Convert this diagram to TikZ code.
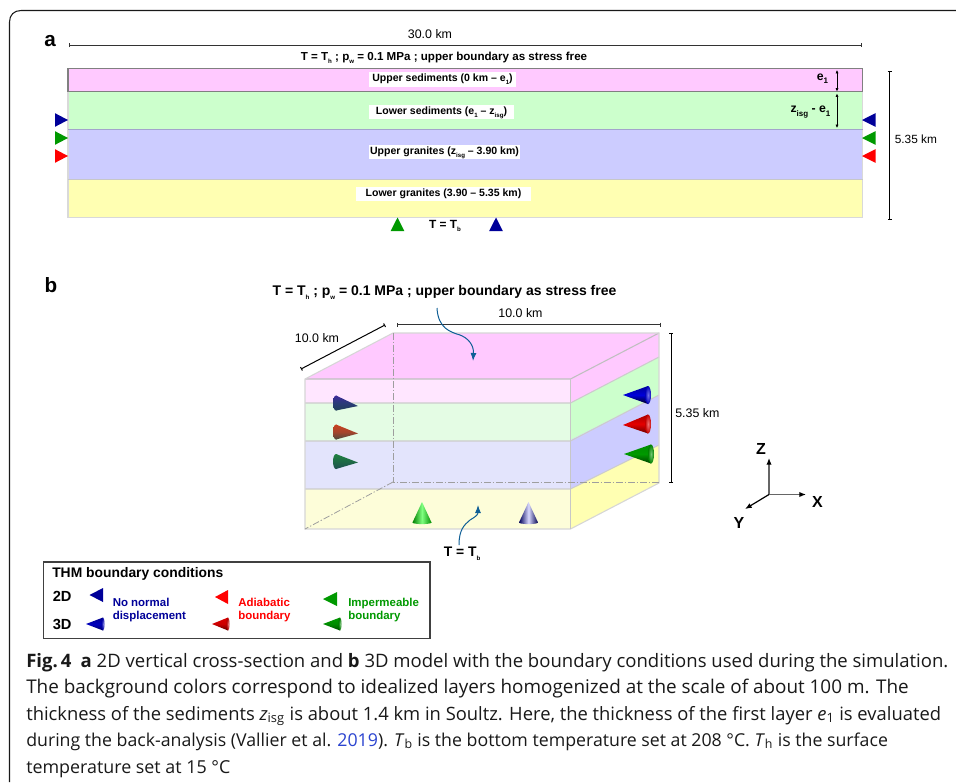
\documentclass[tikz,border=0pt]{standalone}
\usepackage{fontspec}
\setmainfont{Liberation Sans}
\newfontfamily\capfont{Open Sans}
\usetikzlibrary{arrows.meta}
\definecolor{pinkL}{HTML}{FFC9FF}
\definecolor{greenL}{HTML}{CCFFCC}
\definecolor{blueL}{HTML}{CCCCFF}
\definecolor{yellowL}{HTML}{FFFFB2}
\definecolor{pinkF}{HTML}{FFE6FF}
\definecolor{greenF}{HTML}{E4FCE4}
\definecolor{blueF}{HTML}{E3E4FC}
\definecolor{yellowF}{HTML}{FDFDD9}
\definecolor{navyT}{HTML}{000099}
\definecolor{greenT}{HTML}{009900}
\definecolor{redT}{HTML}{FF0000}
\definecolor{curveC}{HTML}{0F5F96}
\definecolor{linkC}{HTML}{2B44D0}
\definecolor{coneA}{HTML}{3D2A9A}
\definecolor{coneB}{HTML}{2A3A78}
\definecolor{coneC}{HTML}{203F58}
\definecolor{coneD}{HTML}{C8401F}
\definecolor{coneE}{HTML}{A5452C}
\definecolor{coneF}{HTML}{4A4A3E}
\definecolor{coneG}{HTML}{1F8040}
\definecolor{coneH}{HTML}{1E6A45}
\definecolor{coneI}{HTML}{1E4E50}
\newcommand{\sbx}[1]{\raisebox{-.55ex}{\fontsize{4.6pt}{5pt}\selectfont #1}}
\newcommand{\sby}[1]{\raisebox{-.5ex}{\fontsize{6pt}{6pt}\selectfont #1}}
\newcommand{\htri}[5]{\fill[#5] (#1,#2) -- (#3,#2-#4) -- (#3,#2+#4) -- cycle;}
\newcommand{\vtri}[5]{\fill[#5] (#1,#2) -- (#1-#4,#3) -- (#1+#4,#3) -- cycle;}
% tip x,y ; base x,y ; half height ; top, middle, bottom colours ; ellipse x radius
\newcommand{\hcone}[9]{%
  \shade[top color=#6,bottom color=#8,middle color=#7]
    (#1,#2) -- (#3,#4-#5) -- (#3,#4+#5) -- cycle;
  \shade[top color=#6,bottom color=#8,middle color=#7] (#3,#4) ellipse [x radius=#9,y radius=#5];}
\newcommand{\hconebright}[9]{%
  \shade[top color=#6,bottom color=#8,middle color=#7]
    (#1,#2) -- (#3,#4-#5) -- (#3,#4+#5) -- cycle;
  \shade[inner color=#7!55!white,outer color=#7!85!black] (#3,#4) ellipse [x radius=#9,y radius=#5];}
\newcommand{\vcone}[7]{%
  \shade[left color=#5,right color=#7,middle color=#6]
    (#1,#2) -- (#1-#4,#3) -- (#1+#4,#3) -- cycle;
  \shade[left color=#5,right color=#7,middle color=#6] (#1,#3) ellipse [x radius=#4,y radius=1.6];}
\tikzset{
  lay/.style={line width=.8pt},
  labelbox/.style={fill=white,inner sep=0pt,font=\fontsize{7.9pt}{8pt}\selectfont\bfseries,text height=7pt,text depth=3.6pt},
  dimtext/.style={font=\fontsize{9.3pt}{10pt}\selectfont,inner sep=0pt},
  boldtext/.style={font=\fontsize{8.9pt}{10pt}\selectfont\bfseries,inner sep=0pt},
  dimline/.style={line width=.75pt,{Bar[width=3pt]}-{Bar[width=3pt]},draw=black!80},
  tiny arrow/.style={line width=.6pt,{Latex[length=2.6pt,width=2.4pt]}-{Latex[length=2.6pt,width=2.4pt]}},
  curvearrow/.style={line width=.75pt,draw=curveC,-{Latex[length=6pt,width=4.5pt]}},
  axisarrow/.style={line width=.9pt,draw=black!60,-{Latex[length=5pt,width=4pt,black]}},
  axislabel/.style={font=\fontsize{12pt}{12pt}\selectfont\bfseries,inner sep=0pt},
  panel/.style={font=\fontsize{15.5pt}{16pt}\selectfont\bfseries,inner sep=0pt},
  legtext/.style={font=\fontsize{8.6pt}{9.75pt}\selectfont\bfseries,inner sep=0pt,anchor=north west,align=left},
  capline/.style={anchor=base west,inner sep=0pt,text=black!90},
  hidden/.style={line width=.6pt,draw=black!38,dash pattern=on 5pt off 1.5pt on 1pt off 1.5pt},
}
\newcommand{\capsize}[1]{\capfont\fontsize{#1pt}{16pt}\selectfont}
\begin{document}
\begin{tikzpicture}[x=0.75pt,y=-0.75pt]
\useasboundingbox (0,0) rectangle (956,782);
\fill[white] (0,0) rectangle (956,782);
% outer frame
\draw[line width=.8pt,black!90] (956,10.5) -- (21,10.5) .. controls (14,10.5) and (9.5,15) .. (9.5,22) -- (9.5,782);
% ---------- panel a
\node[panel] (pa) at (50,41) {a};
\node[panel] (pb) at (51,285) {b};
\fill[pinkL] (68,68.5) rectangle (862.5,91.5);
\fill[greenL] (68,91.5) rectangle (862.5,129.5);
\fill[blueL] (68,129.5) rectangle (862.5,179.5);
\fill[yellowL] (68,179.5) rectangle (862.5,217.5);
\draw[lay,draw=black!15] (68,91.5) -- (68,217.5) -- (862.5,217.5) -- (862.5,91.5);
\draw[lay,draw=black!50] (68,91.5) -- (68,68.5) -- (862.5,68.5) -- (862.5,91.5) -- cycle;
\draw[lay,draw=blueL!80!black] (68,129.5) -- (862.5,129.5);
\draw[lay,draw=black!22] (68,179.5) -- (862.5,179.5);
\coordinate (a1) at (68.5,45); \coordinate (a2) at (862,45);
\draw[dimline] (a1) -- (a2);
\node[dimtext] (lab30) at (430,34) {30.0 km};
\node[boldtext,font=\fontsize{8.7pt}{10pt}\selectfont\bfseries] (topa) at (444,57.5) {T = T\sbx{h} ; p\sbx{w} = 0.1 MPa ; upper boundary as stress free};
\node[labelbox,minimum width=110.25pt] (l1) at (442.5,79.5) {Upper sediments (0 km – e\sbx{1})};
\node[labelbox,minimum width=108.75pt] (l2) at (441.5,112) {Lower sediments (e\sbx{1} – z\sbx{isg})};
\node[labelbox,minimum width=113.25pt] (l3) at (444.5,152) {Upper granites (z\sbx{isg} – 3.90 km)};
\node[labelbox,minimum width=131.25pt] (l4) at (443.5,194) {Lower granites (3.90 – 5.35 km)};
\htri{68}{120}{55}{6.8}{navyT}
\htri{68}{138}{55}{6.8}{greenT}
\htri{68}{156}{55}{6.8}{redT}
\htri{862}{120}{875.5}{6.8}{navyT}
\htri{862}{138}{875.5}{6.8}{greenT}
\htri{862}{156}{875.5}{6.8}{redT}
\vtri{397.5}{217.5}{231}{6.8}{greenT}
\vtri{496}{217.5}{231}{6.8}{navyT}
\node[boldtext] (tba) at (445,226) {T = T\sbx{b}};
\coordinate (d1) at (889.5,70.5); \coordinate (d2) at (889.5,220);
\draw[dimline,draw=black] (d1) -- (d2);
\node[dimtext,anchor=west,font=\fontsize{8.9pt}{10pt}\selectfont] (l535a) at (894.5,139) {5.35 km};
\coordinate (e1a) at (837,70); \coordinate (e1b) at (837,91.5); \coordinate (e2a) at (837,93.5); \coordinate (e2b) at (837,128);
\draw[tiny arrow] (e1a) -- (e1b);
\draw[tiny arrow] (e2a) -- (e2b);
\node[boldtext,font=\fontsize{9.2pt}{10pt}\selectfont\bfseries] (e1l) at (822.5,79) {e\sby{1}};
\node[boldtext,font=\fontsize{9.2pt}{10pt}\selectfont\bfseries] (zel) at (810.5,112) {z\sby{isg} - e\sby{1}};
% ---------- panel b
\node[boldtext,font=\fontsize{10.5pt}{10pt}\selectfont\bfseries] (topb) at (444.5,292) {T = T\sbx{h} ; p\sbx{w} = 0.1 MPa ; upper boundary as stress free};
% top
\fill[pinkL] (305,379) -- (393,333) -- (659,333) -- (570.5,379) -- cycle;
% right faces
\fill[pinkL] (570.5,379) -- (659,333) -- (659,357) -- (570.5,403) -- cycle;
\fill[greenL] (570.5,403) -- (659,357) -- (659,395) -- (570.5,440) -- cycle;
\fill[blueL] (570.5,440) -- (659,395) -- (659,445) -- (570.5,489) -- cycle;
\fill[yellowL] (570.5,489) -- (659,445) -- (659,483) -- (570.5,529) -- cycle;
% front faces
\fill[pinkF] (305,379) rectangle (570.5,403);
\fill[greenF] (305,403) rectangle (570.5,441);
\fill[blueF] (305,441) rectangle (570.5,489);
\fill[yellowF] (305,489) rectangle (570.5,529);
% edges
\draw[lay,draw=black!20] (305,403) -- (570.5,403) -- (659,357);
\draw[lay,draw=black!20] (305,441) -- (570.5,441) -- (659,395);
\draw[lay,draw=black!20] (305,489) -- (570.5,489) -- (659,445);
\draw[lay,draw=black!25] (305,379) -- (570.5,379) -- (659,333);
\draw[lay,draw=black!16] (305,379) -- (393,333) -- (659,333) -- (659,483) -- (570.5,529) -- (305,529) -- cycle;
\draw[lay,draw=black!22] (570.5,379) -- (570.5,529);
\draw[hidden] (393,333) -- (393,482) -- (659,482);
\draw[hidden] (393,482) -- (305,529);
% dims
\coordinate (b1) at (396.5,324.5); \coordinate (b2) at (661,324.5);
\draw[dimline] (b1) -- (b2);
\node[dimtext] (l10a) at (520.5,313) {10.0 km};
\coordinate (b3) at (301,369); \coordinate (b4) at (385,325);
\draw[dimline,draw=black] (b3) -- (b4);
\node[dimtext] (l10b) at (317,338.5) {10.0 km};
\coordinate (b5) at (671,333); \coordinate (b6) at (671,482.5);
\draw[dimline,draw=black] (b5) -- (b6);
\node[dimtext,anchor=west] (l535b) at (675,413.5) {5.35 km};
% curved arrows
\coordinate (c1) at (437,308); \coordinate (c2) at (473,361);
\draw[curvearrow] (c1) .. controls (438,328) and (450,332) .. (460,335) .. controls (468,338) and (474,345) .. (c2);
\coordinate (c3) at (459,545); \coordinate (c4) at (478,505);
\draw[curvearrow] (c3) .. controls (459,530) and (464,525) .. (470,520) .. controls (475,517) and (478,515) .. (c4);
\node[boldtext,font=\fontsize{10.4pt}{10pt}\selectfont\bfseries] (tbb) at (462,554) {T = T\sbx{b}};
% cones front
\hcone{358}{406}{336}{403}{7.5}{coneA}{coneB}{coneC}{3}
\hcone{358}{433.5}{336}{432}{7.5}{coneD}{coneE}{coneF}{3}
\hcone{358}{462.5}{336}{461.5}{7.5}{coneG}{coneH}{coneI}{3}
\vcone{422}{502}{522.5}{9.5}{green!50!black}{green!50!white}{green!55!black}
\vcone{528.5}{502}{522.5}{9.5}{blue!35!black}{blue!15!white}{blue!30!black}
% cones right
\hconebright{623}{395}{648}{395}{9}{blue!60!black}{blue!85!black}{black!90!blue}{3}
\hconebright{623}{425}{648}{424}{9.5}{red!65!black}{red!90!black}{red!40!black}{3}
\hconebright{624}{454}{651}{454}{9.5}{green!55!black}{green!60!black}{green!25!black}{3}
% axes
\coordinate (o) at (769,494.5); \coordinate (oz) at (769,458); \coordinate (ox) at (806,494.5); \coordinate (oy) at (745,509);
\draw[axisarrow] (o) -- (oz);
\draw[axisarrow] (o) -- (ox);
\draw[axisarrow,draw=black] (o) -- (oy);
\node[axislabel] (zl) at (761,449) {Z};
\node[axislabel] (xl) at (817.5,502) {X};
\node[axislabel] (yl) at (739,522.5) {Y};
% ---------- legend
\draw[line width=.8pt,black!75] (43.5,562) rectangle (430,638.5);
\node[anchor=west,inner sep=0pt,font=\fontsize{10.4pt}{10pt}\selectfont\bfseries] (lt) at (52,574) {THM boundary conditions};
\node[anchor=west,inner sep=0pt,font=\fontsize{11pt}{12pt}\selectfont\bfseries] (l2d) at (52.5,596) {2D};
\node[anchor=west,inner sep=0pt,font=\fontsize{11pt}{12pt}\selectfont\bfseries] (l3d) at (52.5,624) {3D};
\htri{89.5}{595}{103}{7}{navyT}
\htri{215}{597}{228}{7}{redT}
\htri{323}{599}{337}{7}{greenT}
\hconebright{86}{624}{103}{624}{6.5}{blue!55!black}{blue!75!black}{blue!40!black}{1.5}
\hconebright{212}{624}{228}{624}{6.5}{red!85!black}{red!80!black}{red!35!black}{1.5}
\hconebright{323}{624}{340}{624}{6.5}{green!60!black}{green!55!black}{green!30!black}{1.5}
\node[legtext,text=navyT] (t1) at (112.5,598) {No normal\\displacement};
\node[legtext,text=redT] (t2) at (238,598) {Adiabatic\\boundary};
\node[legtext,text=greenT] (t3) at (348,598) {Impermeable\\boundary};
% ---------- caption
\node[capline,font=\capsize{13.89}] (c1l) at (26,667) {\textbf{Fig.\,4}\hspace{.5em}\textbf{a} 2D vertical cross-section and \textbf{b} 3D model with the boundary conditions used during the simulation.};
\node[capline,font=\capsize{14.16}] (c2l) at (26,693) {The background colors correspond to idealized layers homogenized at the scale of about 100 m. The};
\node[capline,font=\capsize{13.78}] (c3l) at (26,720) {thickness of the sediments \textit{z}\textsubscript{isg} is about 1.4 km in Soultz. Here, the thickness of the first layer \textit{e}\textsubscript{1} is evaluated};
\node[capline,font=\capsize{13.3}] (c4l) at (26,746) {during the back-analysis (Vallier et al. \textcolor{linkC}{2019}). \textit{T}\textsubscript{b} is the bottom temperature set at 208 °C. \textit{T}\textsubscript{h} is the surface};
\node[capline,font=\capsize{13.4}] (c5l) at (26,773) {temperature set at 15 °C};
\end{tikzpicture}
\end{document}
